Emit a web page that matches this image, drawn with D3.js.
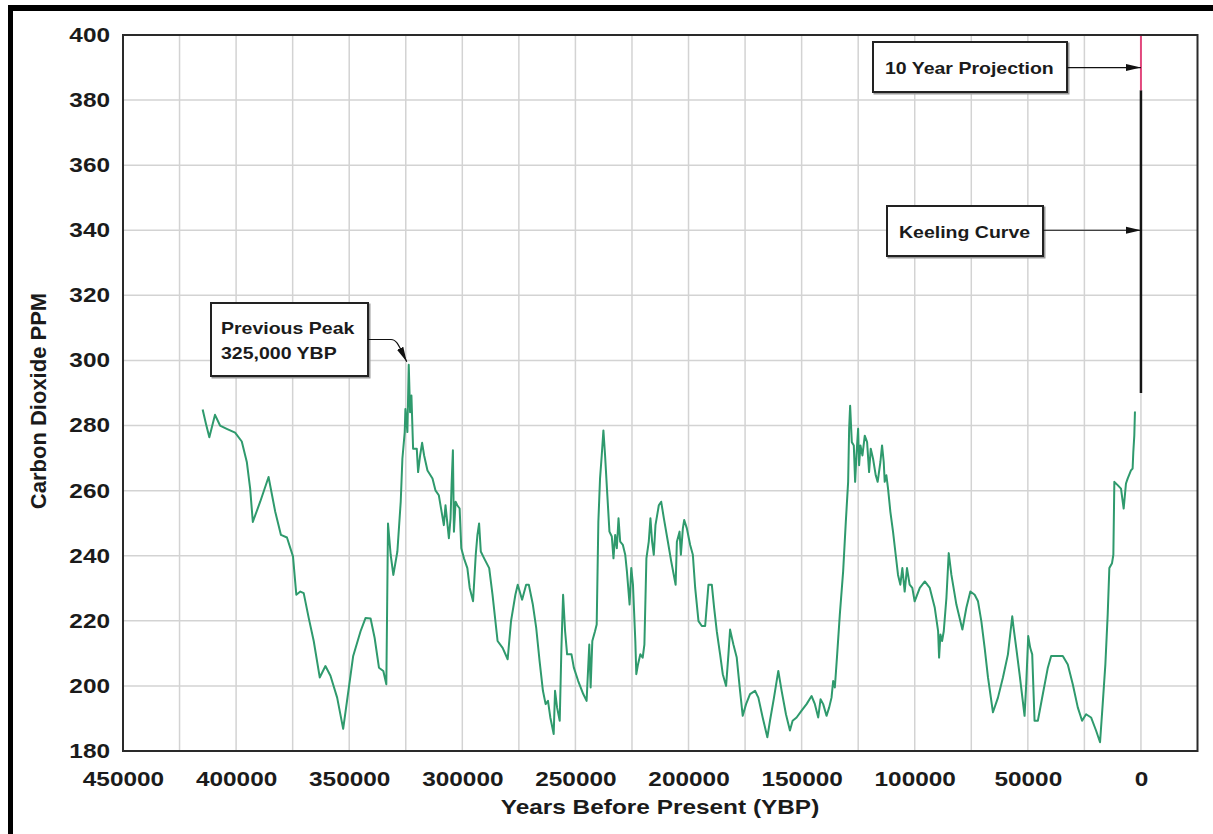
<!DOCTYPE html>
<html>
<head>
<meta charset="utf-8">
<script src="https://cdn.jsdelivr.net/npm/d3@7"></script>
<style>
body{margin:0;background:#fff}
text{font-family:"Liberation Sans",Arial,sans-serif;font-weight:bold;fill:#1b1b1b}
</style>
</head>
<body>
<svg id="chart" width="1213" height="834"></svg>
<script>
// ice core CO2, years before present / ppm
const iceYears = [414790,413310,411830,409320,407100,404140,400440,397490,395270,393790,392610,389350,385650,382700,380180,377520,374860,373380,371600,370120,367910,365690,363030,360510,358290,355330,352670,350160,348240,344980,342760,340550,338770,336850,334920,333590,332850,331670,330490,328710,327230,326490,325460,325160,324280,323680,323090,322500,321760,320140,319540,318660,317770,316880,315400,313180,
311880,310400,308910,308170,307430,306680,305940,305200,304750,304160,303710,302970,302230,301190,300450,299260,297770,296730,295250,294060,293320,292580,291830,290350,288120,286640,284410,282180,279950,278470,276540,275500,273570,271790,270600,268820,267330,265850,264360,263170,262130,261090,259610,259010,258120,256940,256190,255450,254560,253670,251740,250700,248770,246540,245060,243870,243270,242530,241340,240600,239860,239120,238370,237630,236890,236150,234960,233920,233180,232430,231690,230950,230210,229020,227980,227240,226050,225310,224560,223520,223080,222340,221300,220260,219510,218620,217580,216840,216100,215360,214610,213130,212090,210900,209120,207630,205700,
205150,203970,203380,202500,201910,200740,199270,198090,197060,195590,194120,192650,191180,189710,188680,187510,186040,184860,183390,182360,181630,180160,178690,177220,176040,174570,172810,170600,169130,167220,165160,163990,162220,160310,158840,156930,155170,153990,152230,150020,147820,145610,144140,142670,141640,140470,139000,137820,136790,136060,135320,134290,133120,131650,130470,129440,129000,128560,127820,126940,126350,125770,125030,124590,124000,123120,122090,121060,120180,119440,118420,117240,116390,115180,114450,113710,113270,112540,111800,110770,109600,108420,107390,106360,105480,104450,103420,102250,101070,100040,
97760,95550,93350,91140,89670,89230,88640,87910,87170,86000,84970,83790,81590,78940,77180,75410,73500,72030,70560,69090,67620,65420,63210,61010,58800,56890,56300,55130,53660,51450,50720,49830,48950,48070,47040,45570,43370,41160,39690,37490,34550,32340,30140,27930,26020,24260,22050,19850,18080,16910,15730,14700,13970,12790,12200,11760,10290,8820,7640,6620,5880,4410,3680,3380,2940,2650]
const icePpm = [284.9,280.5,276.4,283.3,280.0,279.0,277.8,275.1,268.8,260.6,250.4,256.6,264.2,253.5,246.4,245.6,239.8,228.0,229.0,228.5,220.9,213.8,202.6,206.1,203.1,196.4,186.8,199.5,209.2,216.8,220.9,220.7,214.8,205.6,204.6,200.5,249.9,240.3,234.1,241.3,256.6,269.8,278.0,285.1,278.0,298.7,284.1,289.2,272.9,272.9,265.7,270.8,274.7,270.8,266.2,263.7,
260.1,258.6,252.5,249.4,255.5,250.4,245.4,251.5,261.7,272.4,247.4,256.6,255.5,254.5,242.3,239.2,236.2,230.1,226.0,240.3,246.4,249.9,241.3,239.2,236.2,228.0,213.8,211.7,208.2,219.9,228.0,231.1,226.5,231.1,231.1,225.0,217.8,207.7,198.5,194.4,195.4,190.3,185.2,198.5,193.4,189.3,211.7,228.0,216.8,209.7,209.7,205.6,201.5,197.5,195.4,212.7,199.5,213.8,216.8,218.9,250.4,263.7,270.8,278.5,270.8,261.7,247.4,245.9,239.2,246.4,242.3,251.5,244.3,243.3,240.3,235.2,225.0,236.2,231.1,213.8,203.6,206.6,209.7,208.7,212.7,239.2,244.3,251.5,244.3,240.3,249.4,255.5,256.6,251.5,244.3,238.2,231.1,
244.3,247.4,240.3,248.4,251.0,248.4,243.3,240.3,230.1,219.9,218.4,218.4,231.1,231.1,224.0,216.8,209.7,203.6,200.0,209.7,217.3,212.7,208.7,198.5,190.8,194.4,197.5,198.5,196.4,190.3,184.2,189.3,196.4,204.6,198.5,191.3,186.3,189.3,190.3,192.4,194.4,196.9,194.4,190.3,195.9,194.4,190.8,193.4,196.4,201.5,199.5,209.7,221.9,235.2,250.4,262.7,279.0,286.1,274.9,273.9,262.7,270.8,279.0,267.8,273.9,270.8,276.9,274.9,265.7,272.9,269.8,264.7,262.7,268.8,273.9,268.8,262.7,264.7,260.6,253.5,247.4,240.3,234.1,231.1,236.2,229.0,236.2,231.1,230.1,226.0,
230.1,232.1,230.1,224.0,216.8,208.7,215.8,213.8,216.8,227.0,240.8,234.1,225.0,217.3,224.0,229.0,228.0,226.0,219.9,211.7,202.6,191.9,196.4,202.6,209.7,221.4,217.8,211.7,203.6,190.8,200.5,215.3,211.7,209.7,189.3,189.3,197.5,205.6,209.2,209.2,209.2,206.6,200.5,193.4,189.3,191.3,190.3,186.3,182.7,194.4,206.6,221.9,236.2,237.7,240.3,262.7,261.7,260.6,254.5,262.2,263.7,266.2,266.8,271.8,276.9,284.3]

// Keeling curve and the ten year projection, both drawn at year 0
const keelingYears = [0, 0]
const keelingPpm = [290, 383]
const projectionYears = [0, 0]
const projectionPpm = [383, 400]

const xTicks = [450000, 400000, 350000, 300000, 250000, 200000, 150000, 100000, 50000, 0]
const yTicks = [180, 200, 220, 240, 260, 280, 300, 320, 340, 360, 380, 400]

const svg = d3.select("#chart")
const M = {l: 123, r: 1197.5, t: 35, b: 751}
const SX = 1.22 // the text in the picture is a bit wide

const x = d3.scaleLinear().domain([450000, -25000]).range([M.l, M.r])
const y = d3.scaleLinear().domain([180, 400]).range([M.b, M.t])

//outer frame (left and top bars)
svg.append("rect").attr("x", 8).attr("y", 5).attr("width", 1213).attr("height", 6).attr("fill", "#000")
svg.append("rect").attr("x", 8).attr("y", 5).attr("width", 5).attr("height", 834).attr("fill", "#000")

//arrow head
svg.append("defs").append("marker")
  .attr("id", "arr").attr("viewBox", "0 -5 15 10").attr("refX", 15).attr("refY", 0)
  .attr("markerWidth", 15).attr("markerHeight", 10).attr("markerUnits", "userSpaceOnUse")
  .attr("orient", "auto")
  .append("path").attr("d", "M0,-3.5L15,0L0,3.5Z").attr("fill", "#111")

//grid
const grid = svg.append("g").attr("stroke", "#d3d3d3").attr("stroke-width", 1.5)
grid.selectAll("line.v").data(d3.range(425000, -1, -25000)).join("line").attr("class", "v")
  .attr("x1", d => x(d)).attr("x2", d => x(d)).attr("y1", M.t).attr("y2", M.b)
grid.selectAll("line.h").data(yTicks.slice(1, -1)).join("line").attr("class", "h")
  .attr("x1", M.l).attr("x2", M.r).attr("y1", d => y(d)).attr("y2", d => y(d))

//axes
const xAxis = svg.append("g").attr("transform", `translate(0,${M.b})`)
  .call(d3.axisBottom(x).tickValues(xTicks).tickFormat(d3.format("d")).tickSize(0).tickPadding(21))
xAxis.select(".domain").remove()
xAxis.selectAll("text").attr("font-size", 20).attr("transform", `scale(${SX},1)`)

const yAxis = svg.append("g").attr("transform", `translate(${M.l},0)`)
  .call(d3.axisLeft(y).tickValues(yTicks).tickSize(0))
yAxis.select(".domain").remove()
yAxis.selectAll("text").attr("font-size", 20).attr("x", -13 / SX).attr("transform", `scale(${SX},1)`)

//titles
svg.append("text").attr("transform", `translate(660,814) scale(${SX},1)`)
  .attr("text-anchor", "middle").attr("font-size", 20).text("Years Before Present (YBP)")
svg.append("text").attr("transform", "translate(38,401) rotate(-90)")
  .attr("text-anchor", "middle").attr("dy", "0.35em").attr("font-size", 22).text("Carbon Dioxide PPM")

//data
const ice = iceYears.map((yr, i) => ({yr: yr, ppm: icePpm[i]}))
const line = d3.line().x(d => x(d.yr)).y(d => y(d.ppm))
svg.append("path").datum(ice).attr("d", line)
  .attr("fill", "none").attr("stroke", "#2f9a6d").attr("stroke-width", 2).attr("stroke-linejoin", "round")

const keeling = keelingYears.map((yr, i) => ({yr: yr, ppm: keelingPpm[i]}))
svg.append("path").datum(keeling).attr("d", line).attr("stroke", "#151515").attr("stroke-width", 2.5)
const projection = projectionYears.map((yr, i) => ({yr: yr, ppm: projectionPpm[i]}))
svg.append("path").datum(projection).attr("d", line).attr("stroke", "#e2487d").attr("stroke-width", 2)

//plot border
svg.append("rect").attr("x", M.l).attr("y", M.t).attr("width", M.r - M.l).attr("height", M.b - M.t)
  .attr("fill", "none").attr("stroke", "#2a2a2a").attr("stroke-width", 2)

//annotation boxes
const box = (bx, by, bw, bh, lines, tx, ty) => {
  svg.append("rect").attr("x", bx + 1.5).attr("y", by + 1.5).attr("width", bw).attr("height", bh)
    .attr("fill", "none").attr("stroke", "#9a9a9a").attr("stroke-width", 2)
  svg.append("rect").attr("x", bx).attr("y", by).attr("width", bw).attr("height", bh)
    .attr("fill", "#fff").attr("stroke", "#222").attr("stroke-width", 2)
  lines.forEach((t, i) => {
    svg.append("text").attr("transform", `translate(${tx},${ty + i * 25}) scale(${SX},1)`)
      .attr("font-size", 16).text(t)
  })
}
const arrow = d => svg.append("path").attr("d", d).attr("fill", "none")
  .attr("stroke", "#111").attr("stroke-width", 1.2).attr("marker-end", "url(#arr)")

box(873, 42, 194, 50, ["10 Year Projection"], 885, 73.5)
arrow(`M1067,${y(390)}H${x(0)}`)

box(887, 206, 156, 50, ["Keeling Curve"], 899, 237.5)
arrow(`M1043,${y(340)}H${x(0)}`)

box(211, 303, 157, 73, ["Previous Peak", "325,000 YBP"], 221, 334)
const pk = ice[d3.maxIndex(ice, d => d.ppm)]
const px = x(pk.yr) - 2, py = y(pk.ppm) - 3
arrow(`M368,339.5H391C397,339.5 399,346 ${px},${py}`)
</script>
</body>
</html>
